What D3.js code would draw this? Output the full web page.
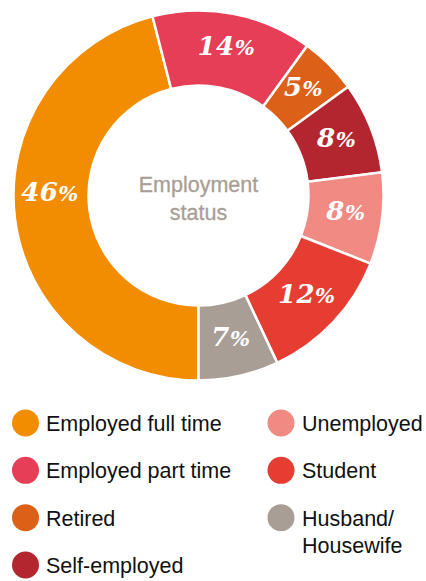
<!DOCTYPE html>
<html>
<head>
<meta charset="utf-8">
<script src="https://cdn.jsdelivr.net/npm/d3@7"></script>
<style>
  html, body { margin: 0; padding: 0; background: #fff; }
  svg { display: block; }
</style>
</head>
<body>
<svg id="chart" width="426" height="581"></svg>
<script>
// Employment status shares (percent), clockwise from six o'clock
const categories = [
  "Employed full time",
  "Employed part time",
  "Retired",
  "Self-employed",
  "Unemployed",
  "Student",
  "Husband/Housewife"
];
const shares = [46, 14, 5, 8, 8, 12, 7];
const colors = ["#f28c00", "#e63e56", "#dc6017", "#b3262f", "#f08a82", "#e53d31", "#a89e96"];

// Legend layout: two columns, entries listed top to bottom
const legendLeft = ["Employed full time", "Employed part time", "Retired", "Self-employed"];
const legendRight = ["Unemployed", "Student", "Husband/Housewife"];
const legendLines = { "Husband/Housewife": ["Husband/", "Housewife"] };

const svg = d3.select("#chart");
const cx = 198.5, cy = 195.5;
const outerR = 185, innerR = 110;

const pie = d3.pie()
  .sort(null)
  .value(d => d.value)
  .startAngle(Math.PI)
  .endAngle(3 * Math.PI);

const data = categories.map((c, i) => ({ name: c, value: shares[i], color: colors[i] }));
const arcs = pie(data);

const arc = d3.arc().innerRadius(innerR).outerRadius(outerR);
const labelR = (innerR + outerR) / 2 + 1;

const g = svg.append("g").attr("transform", `translate(${cx},${cy})`);

g.selectAll("path.slice")
  .data(arcs)
  .join("path")
  .attr("class", "slice")
  .attr("d", arc)
  .attr("fill", d => d.data.color)
  .attr("stroke", "#fff")
  .attr("stroke-width", 2.5)
  .attr("stroke-linejoin", "miter");

// Value labels at the ring's mid-radius; the large slice keeps its label level with the centre
const labelAngle = d => d.data.value > 40 ? 1.5 * Math.PI : (d.startAngle + d.endAngle) / 2;

const labels = g.selectAll("text.val")
  .data(arcs)
  .join("text")
  .attr("class", "val")
  .attr("transform", d => {
    const a = labelAngle(d);
    return `translate(${labelR * Math.sin(a)},${-labelR * Math.cos(a)})`;
  })
  .attr("text-anchor", "middle")
  .attr("dy", "0.36em")
  .attr("fill", "#fff")
  .attr("font-family", "'DejaVu Serif', serif")
  .attr("font-weight", "bold")
  .attr("font-style", "italic")
  .attr("letter-spacing", 0.5);

labels.append("tspan").attr("font-size", 26).text(d => d.data.value);
labels.append("tspan").attr("font-size", 21).text("%");

// Centre caption
const caption = g.append("text")
  .attr("text-anchor", "middle")
  .attr("fill", "#a89e96")
  .attr("font-family", "'Liberation Sans', Arial, sans-serif")
  .attr("font-size", 21.5)
  .attr("stroke", "#a89e96")
  .attr("stroke-width", 0.3);
caption.append("tspan").attr("x", 0).attr("y", -4).text("Employment");
caption.append("tspan").attr("x", 0).attr("y", 24).text("status");

// Legend
const colorOf = d3.scaleOrdinal().domain(categories).range(colors);
const rowY = d3.scalePoint().domain(d3.range(4)).range([423, 565]);

function drawColumn(items, circleX, textX) {
  const rows = svg.append("g").selectAll("g")
    .data(items)
    .join("g")
    .attr("transform", (d, i) => `translate(0,${rowY(i)})`);
  rows.append("circle")
    .attr("cx", circleX)
    .attr("cy", 0)
    .attr("r", 13.5)
    .attr("fill", d => colorOf(d));
  const t = rows.append("text")
    .attr("fill", "#111")
    .attr("font-family", "'Liberation Sans', Arial, sans-serif")
    .attr("font-size", 21.5);
  t.selectAll("tspan")
    .data(d => legendLines[d] || [d])
    .join("tspan")
    .attr("x", textX)
    .attr("y", (d, i) => 8 + i * 27.5)
    .text(d => d);
}
drawColumn(legendLeft, 25.5, 46);
drawColumn(legendRight, 281, 302);
</script>
</body>
</html>
